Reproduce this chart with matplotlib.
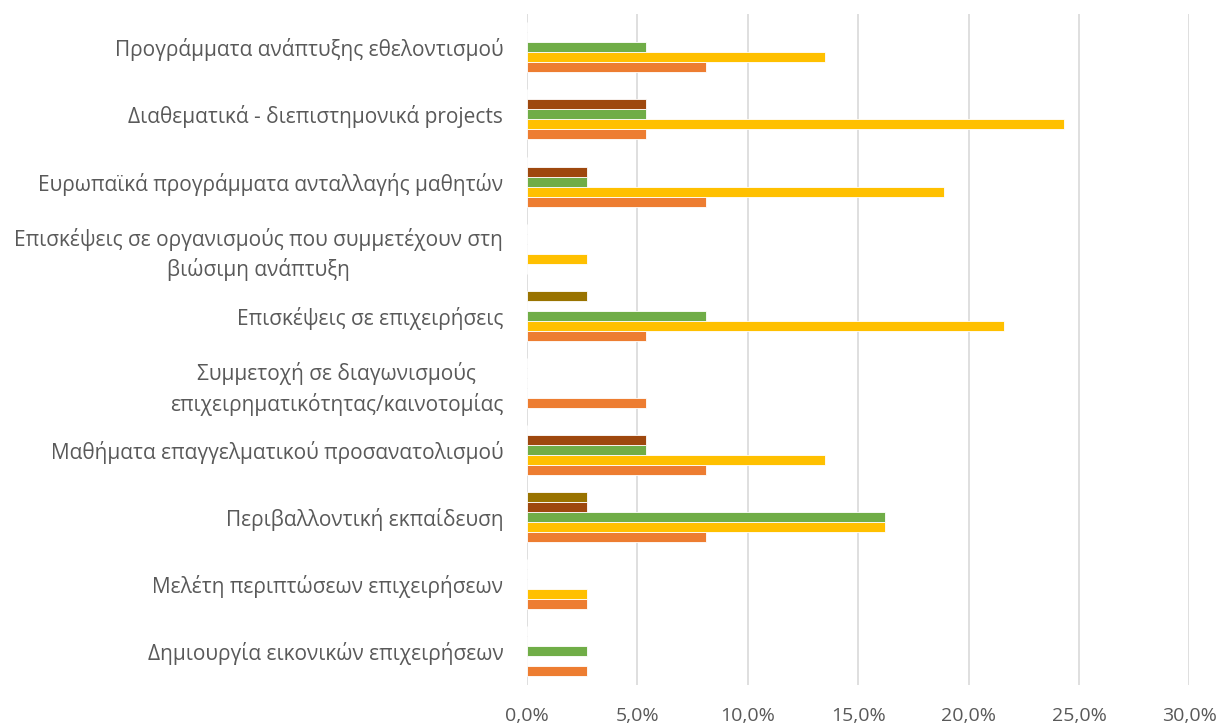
import matplotlib
matplotlib.use("Agg")
import matplotlib.pyplot as plt
import numpy as np
from matplotlib.ticker import FuncFormatter

categories = [
    "Δημιουργία εικονικών επιχειρήσεων",
    "Μελέτη περιπτώσεων επιχειρήσεων",
    "Περιβαλλοντική εκπαίδευση",
    "Μαθήματα επαγγελματικού προσανατολισμού",
    "Συμμετοχή σε διαγωνισμούς\nεπιχειρηματικότητας/καινοτομίας",
    "Επισκέψεις σε επιχειρήσεις",
    "Επισκέψεις σε οργανισμούς που συμμετέχουν στη\nβιώσιμη ανάπτυξη",
    "Ευρωπαϊκά προγράμματα ανταλλαγής μαθητών",
    "Διαθεματικά - διεπιστημονικά projects",
    "Προγράμματα ανάπτυξης εθελοντισμού",
]
series1 = [2.7, 2.7, 8.1, 8.1, 5.4, 5.4, 0.0, 8.1, 5.4, 8.1]
series2 = [0.0, 2.7, 16.2, 13.5, 0.0, 21.6, 2.7, 18.9, 24.3, 13.5]
series3 = [2.7, 0.0, 16.2, 5.4, 0.0, 8.1, 0.0, 2.7, 5.4, 5.4]
series4 = [0.0, 0.0, 2.7, 5.4, 0.0, 0.0, 0.0, 2.7, 5.4, 0.0]
series5 = [0.0, 0.0, 2.7, 0.0, 0.0, 2.7, 0.0, 0.0, 0.0, 0.0]
xticks = [0, 5, 10, 15, 20, 25, 30]

series = [series1, series2, series3, series4, series5]
colors = ["#ED7D31", "#FFC000", "#70AD47", "#9E480E", "#997300"]

plt.rcParams['font.family'] = ['Open Sans', 'DejaVu Sans']
fig = plt.figure(figsize=(12.21, 7.27), dpi=100)
ax = fig.add_axes([0.4316, 0.058, 0.5426, 0.923])

y = np.arange(len(categories))
h = 0.149
for i, (vals, c) in enumerate(zip(series, colors)):
    ax.barh(y + (i - 2) * h, vals, height=h, color=c, edgecolor="white", linewidth=0.6, zorder=3)

ax.set_xlim(0, 30)
ax.set_ylim(-0.5, len(categories) - 0.5)
ax.set_xticks(xticks)
ax.xaxis.set_major_formatter(FuncFormatter(lambda v, p: f"{v:.1f}%".replace(".", ",")))
ax.set_yticks(y)
ax.set_yticklabels(categories, multialignment="center", linespacing=1.4)
ax.grid(axis="x", color="#D9D9D9", linewidth=1.2, zorder=0)
for s in ax.spines.values():
    s.set_visible(False)
ax.tick_params(axis="both", length=0, colors="#595959")
ax.tick_params(axis="y", pad=17, labelsize=15)
ax.tick_params(axis="x", pad=16, labelsize=14)

fig.savefig("out.png", dpi=100)
